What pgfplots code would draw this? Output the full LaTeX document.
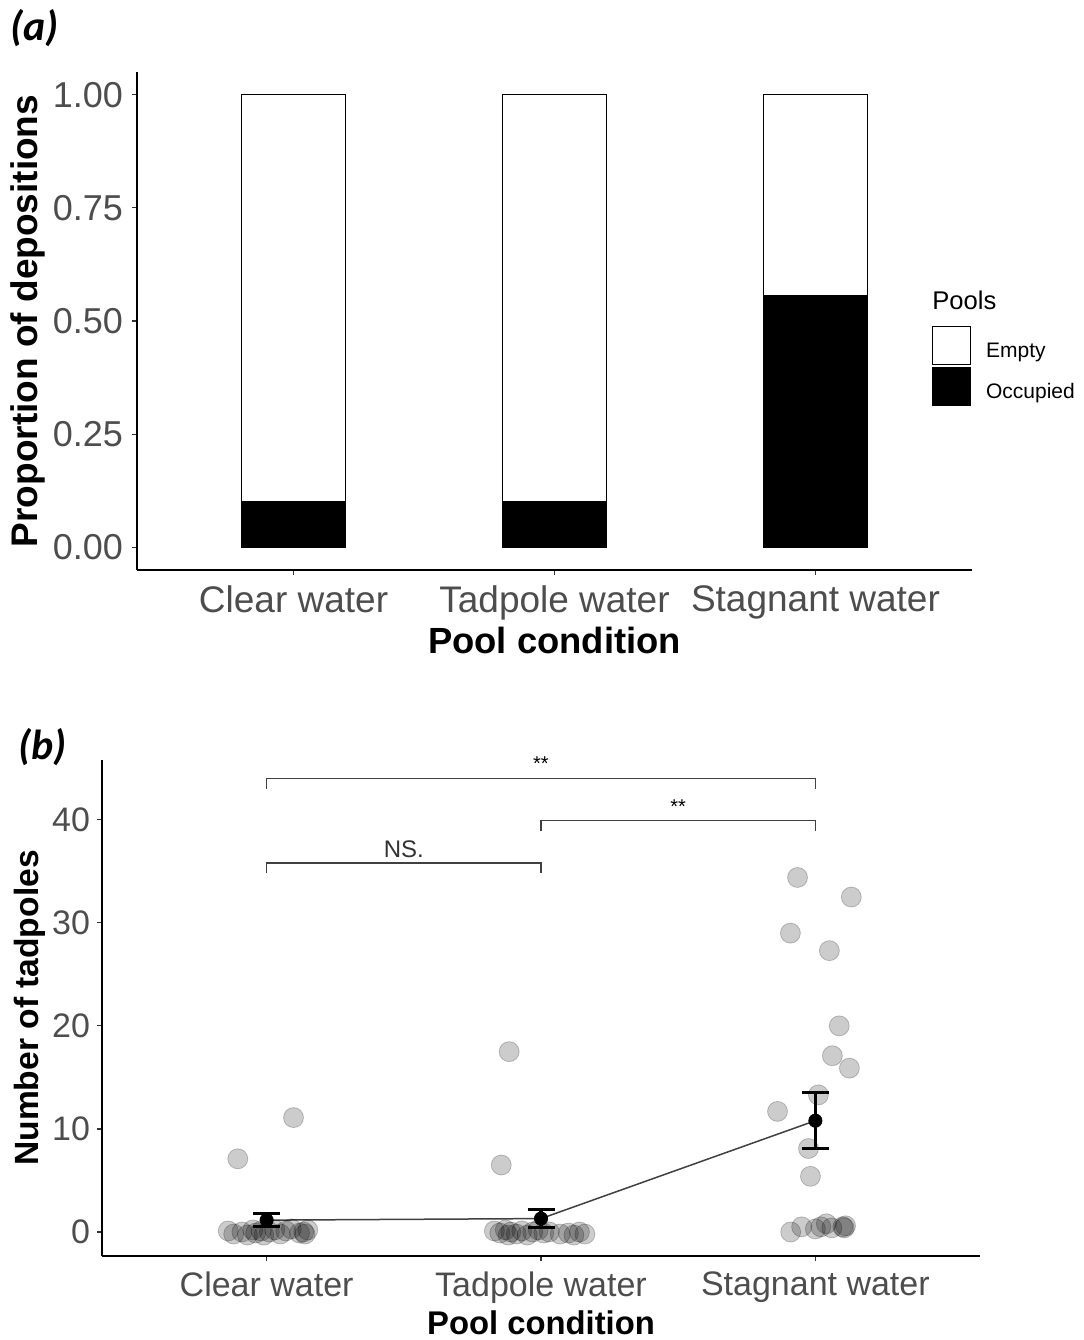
\documentclass[border=0pt]{standalone}
\usepackage{pgfplots}
\pgfplotsset{compat=1.18}
\usepackage{fontspec}
\setmainfont{Liberation Sans}
\newfontfamily\carlito{Carlito}
\definecolor{tickgrey}{HTML}{4D4D4D}
\definecolor{tickline}{HTML}{333333}
\pgfplotsset{
  ggbase/.style={
    scale only axis,
    axis lines=left,
    axis line style={-, black, line width=0.6pt},
    tick align=outside,
    tick pos=left,
    major tick length=2.5pt,
    tick style={tickline, line width=0.6pt},
    xtick={1,2,3},
    xticklabels={Clear water,Tadpole water,Stagnant water},
    /pgf/number format/assume math mode=true,
    clip=false,
  }
}
\begin{document}
\begin{tikzpicture}[x=1pt,y=1pt]
\path[use as bounding box] (0,0) rectangle (541.5,670);

% ---------------- panel (a)
\begin{axis}[ggbase,
  at={(68.5pt,385pt)}, anchor=south west,
  width=417.5pt, height=249pt,
  xmin=0.4, xmax=3.6, ymin=-0.05, ymax=1.05,
  ytick={0,0.25,0.5,0.75,1},
  yticklabel style={font=\fontsize{18}{18}\selectfont, text=tickgrey, xshift=-1pt, /pgf/number format/fixed, /pgf/number format/fixed zerofill, /pgf/number format/precision=2},
  xticklabel style={font=\fontsize{18.5}{18.5}\selectfont, text=tickgrey, yshift=-2pt},
  xlabel={Pool condition},
  ylabel={Proportion of depositions},
  xlabel style={font=\bfseries\fontsize{18.2}{18.2}\selectfont, at={(axis description cs:0.5,0)}, anchor=center, yshift=-35pt},
  ylabel style={font=\bfseries\fontsize{18.5}{18.5}\selectfont, at={(axis description cs:0,0.5)}, anchor=center, rotate=0, yshift=54.5pt},
  ybar stacked, bar width=0.4,
  legend style={at={(axis description cs:0.952,0.49)}, anchor=north west, draw=none, fill=none, inner sep=0pt, outer sep=0pt,
    font=\fontsize{10.5}{10.5}\selectfont, row sep=1pt,
    nodes={inner sep=0pt, anchor=west}, /tikz/every odd column/.append style={column sep=7.5pt},
    /tikz/every even column/.append style={yshift=-2pt}},
  legend cell align=left,
  legend image code/.code={\draw[#1, line width=0.6pt] (0pt,-9.5pt) rectangle (19pt,9.5pt);},
]
\addplot[fill=black, draw=black, line width=0.6pt, forget plot] coordinates {(1,0.1) (2,0.1) (3,0.555)};
\addplot[fill=white, draw=black, line width=0.6pt, forget plot] coordinates {(1,0.9) (2,0.9) (3,0.445)};
\addlegendimage{fill=white, draw=black}
\addlegendentry{\raisebox{-2pt}{Empty}}
\addlegendimage{fill=black, draw=black}
\addlegendentry{\raisebox{-2pt}{Occupied}}
\end{axis}
\node[anchor=west, font=\fontsize{12.8}{12.8}\selectfont, inner sep=0pt] at (466,520) {Pools};
\node[anchor=west, font=\carlito\bfseries\itshape\fontsize{21}{21}\selectfont, inner sep=0pt] at (5,656) {(a)};

% ---------------- panel (b)
\begin{axis}[ggbase,
  at={(51pt,42pt)}, anchor=south west,
  width=439pt, height=248pt,
  xmin=0.4, xmax=3.6, ymin=-2.33, ymax=45.8,
  ytick={0,10,20,30,40},
  yticklabel style={font=\fontsize{17}{17}\selectfont, text=tickgrey},
  xticklabel style={font=\fontsize{17}{17}\selectfont, text=tickgrey, yshift=-2pt},
  xlabel={Pool condition},
  ylabel={Number of tadpoles},
  xlabel style={font=\bfseries\fontsize{16.4}{16.4}\selectfont, at={(axis description cs:0.5,0)}, anchor=center, yshift=-33.5pt},
  ylabel style={font=\bfseries\fontsize{16.8}{16.8}\selectfont, at={(axis description cs:0,0.5)}, anchor=center, yshift=36pt},
]
% individual pools
\addplot[only marks, mark=*, mark size=5pt,
  mark options={fill=black, fill opacity=0.2, draw=black, draw opacity=0.22, line width=0.4pt}]
table[row sep=\\] {
x y\\
0.895 7.1\\ 1.098 11.1\\
0.86 0.1\\ 0.88 -0.2\\ 0.91 0.0\\ 0.93 -0.3\\ 0.95 0.2\\ 0.96 -0.1\\ 0.98 0.1\\ 0.99 -0.3\\
1.01 0.0\\ 1.03 0.2\\ 1.05 -0.2\\ 1.07 0.1\\ 1.09 0.3\\ 1.12 -0.1\\ 1.135 0.0\\ 1.14 -0.2\\ 1.15 0.2\\
1.884 17.5\\ 1.855 6.5\\
1.83 0.1\\ 1.85 -0.1\\ 1.87 0.2\\ 1.89 0.0\\ 1.91 -0.2\\ 1.93 0.1\\ 1.95 -0.3\\ 1.97 0.0\\ 1.99 0.2\\
2.01 -0.1\\ 2.03 0.0\\ 2.07 -0.2\\ 2.10 -0.1\\ 2.12 -0.3\\ 2.14 0.0\\ 2.16 -0.2\\ 1.88 -0.3\\
2.935 34.4\\ 3.131 32.5\\ 2.909 29.0\\ 3.051 27.3\\ 3.087 20.0\\ 3.062 17.1\\ 3.124 15.9\\
3.011 13.3\\ 2.862 11.7\\ 2.975 8.1\\ 2.982 5.4\\
2.91 0.0\\ 2.95 0.5\\ 3.00 0.3\\ 3.02 0.5\\ 3.04 0.8\\ 3.06 0.4\\ 3.10 0.5\\ 3.11 0.6\\ 3.105 0.4\\
};
% line through means
\addplot[black!75, line width=0.75pt] coordinates {(1,1.15) (2,1.3) (3,10.8)};
% means with standard errors
\addplot[only marks, mark=*, mark size=3.3pt, black,
  error bars/.cd, y dir=both, y explicit,
  error bar style={line width=1.6pt, black},
  error mark options={rotate=90, mark size=6.75pt, line width=1.6pt, black}]
coordinates {(1,1.15) +- (0,0.65) (2,1.3) +- (0,0.9) (3,10.8) +- (0,2.7)};
% significance brackets
\addplot[black!75, line width=0.7pt] coordinates {(1,43) (1,44) (3,44) (3,43)};
\addplot[black!75, line width=0.7pt] coordinates {(2,38.9) (2,39.9) (3,39.9) (3,38.9)};
\addplot[black!75, line width=0.7pt] coordinates {(1,34.8) (1,35.8) (2,35.8) (2,34.8)};
\node[font=\fontsize{10}{10}\selectfont] at (axis cs:2,45.4) {**};
\node[font=\fontsize{10}{10}\selectfont] at (axis cs:2.5,41.3) {**};
\node[font=\fontsize{12}{12}\selectfont, text=black!80] at (axis cs:1.5,37.1) {NS.};
\end{axis}
\node[anchor=west, font=\carlito\bfseries\itshape\fontsize{21}{21}\selectfont, inner sep=0pt] at (9,296.5) {(b)};
\end{tikzpicture}
\end{document}
